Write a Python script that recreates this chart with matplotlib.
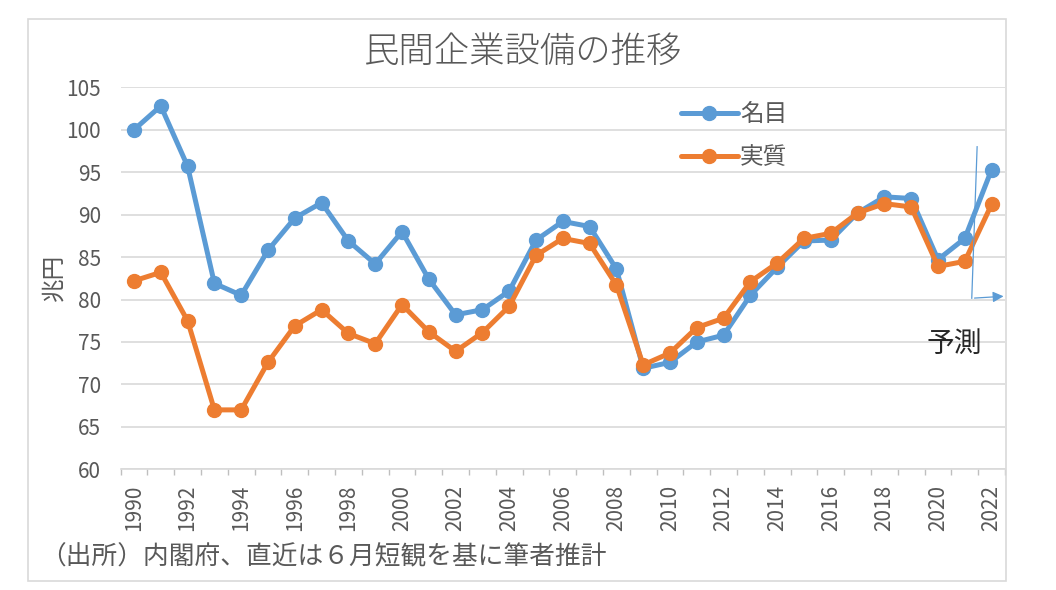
import numpy as np
import matplotlib
matplotlib.use("Agg")
import matplotlib.pyplot as plt
from matplotlib.patches import Rectangle

plt.rcParams['font.family'] = ['Noto Sans CJK JP', 'DejaVu Sans']

# data (兆円)
years = list(range(1990, 2023))
nominal = [100.0, 102.8, 95.7, 81.9, 80.5, 85.8, 89.6, 91.4, 86.9, 84.2,
           88.0, 82.4, 78.2, 78.8, 81.0, 87.0, 89.2, 88.6, 83.6, 71.9,
           72.6, 75.0, 75.8, 80.5, 83.8, 86.9, 87.0, 90.2, 92.1, 91.9,
           84.7, 87.2, 95.3]
real = [82.2, 83.2, 77.5, 67.0, 67.0, 72.6, 76.9, 78.8, 76.0, 74.8,
        79.4, 76.2, 73.9, 76.1, 79.2, 85.2, 87.2, 86.6, 81.7, 72.3,
        73.7, 76.7, 77.8, 82.1, 84.3, 87.2, 87.8, 90.2, 91.3, 90.9,
        83.9, 84.5, 91.2]
series_labels = ['名目', '実質']
title = '民間企業設備の推移'
ylabel = '兆円'
source = '（出所）内閣府、直近は６月短観を基に筆者推計'
forecast_label = '予測'

BLUE = '#5B9BD5'
ORANGE = '#ED7D31'
GRID = '#D9D9D9'
TEXT = '#595959'

W, H = 1056, 590
fig = plt.figure(figsize=(W / 100, H / 100), dpi=100)
fig.patch.set_facecolor('white')

# chart frame like the spreadsheet chart border
fig.patches.append(Rectangle((28 / W, 1 - 581 / H), (1006 - 28) / W, (581 - 19) / H,
                             transform=fig.transFigure, fill=False,
                             edgecolor=GRID, linewidth=1.2))

ax = fig.add_axes([120.6 / W, 1 - 469.3 / H, (1005 - 120.6) / W, (469.3 - 87.3) / H])

ax.plot(years, nominal, color=BLUE, lw=3.6, marker='o', ms=10, label=series_labels[0],
        solid_capstyle='round', zorder=3)
ax.plot(years, real, color=ORANGE, lw=3.6, marker='o', ms=10, label=series_labels[1],
        solid_capstyle='round', zorder=4)

ax.set_xlim(1989.5, 2022.5)
ax.set_ylim(60, 105)
ax.set_yticks(np.arange(60, 106, 5))
ax.set_xticks(years[::2])
ax.set_xticklabels([str(y) for y in years[::2]], rotation=90)
ax.set_xticks(np.arange(1989.5, 2023, 1), minor=True)

ax.grid(axis='y', color=GRID, lw=1.2)
ax.set_axisbelow(True)
for s in ['left', 'right', 'top']:
    ax.spines[s].set_visible(False)
ax.spines['bottom'].set_color(GRID)
ax.spines['bottom'].set_linewidth(1.2)

ax.tick_params(axis='y', length=0, pad=14, labelsize=15, labelcolor=TEXT)
ax.tick_params(axis='x', which='major', length=0, pad=11, labelsize=15, labelcolor=TEXT)
ax.tick_params(axis='x', which='minor', length=4, width=1, color='#BFBFBF', direction='out')

ax.set_ylabel(ylabel, fontsize=17, color=TEXT)
ax.yaxis.set_label_coords(-(120.6 - 65) / (1005 - 120.6), (469.3 - 277) / (469.3 - 87.3))

fig.text(523 / W, 1 - 52 / H, title, fontsize=25.5, color=TEXT, ha='center', va='center',
         fontweight='light')
fig.text(40 / W, 1 - 557 / H, source, fontsize=18.5, color=TEXT, ha='left', va='center')

leg = ax.legend(loc='upper left', bbox_to_anchor=(681 / W, 1 - 103 / H),
                bbox_transform=fig.transFigure, frameon=False, fontsize=17,
                handlelength=2.4, handletextpad=0.1, labelspacing=0.85,
                borderpad=0, borderaxespad=0)
for t in leg.get_texts():
    t.set_color(TEXT)

# forecast marker: thin line down then arrow to the right
ax.plot([2021.46, 2021.26], [98.0, 80.15], color=BLUE, lw=0.9, clip_on=False, zorder=5)
ax.annotate('', xy=(2022.55, 80.4), xytext=(2021.26, 80.15),
            arrowprops=dict(arrowstyle='-|>', color=BLUE, lw=0.9, mutation_scale=16),
            annotation_clip=False, zorder=5)
ax.text(2020.6, 74.8, forecast_label, fontsize=20, color='#262626', ha='center', va='center')

fig.savefig('out.png', dpi=100, facecolor='white')
